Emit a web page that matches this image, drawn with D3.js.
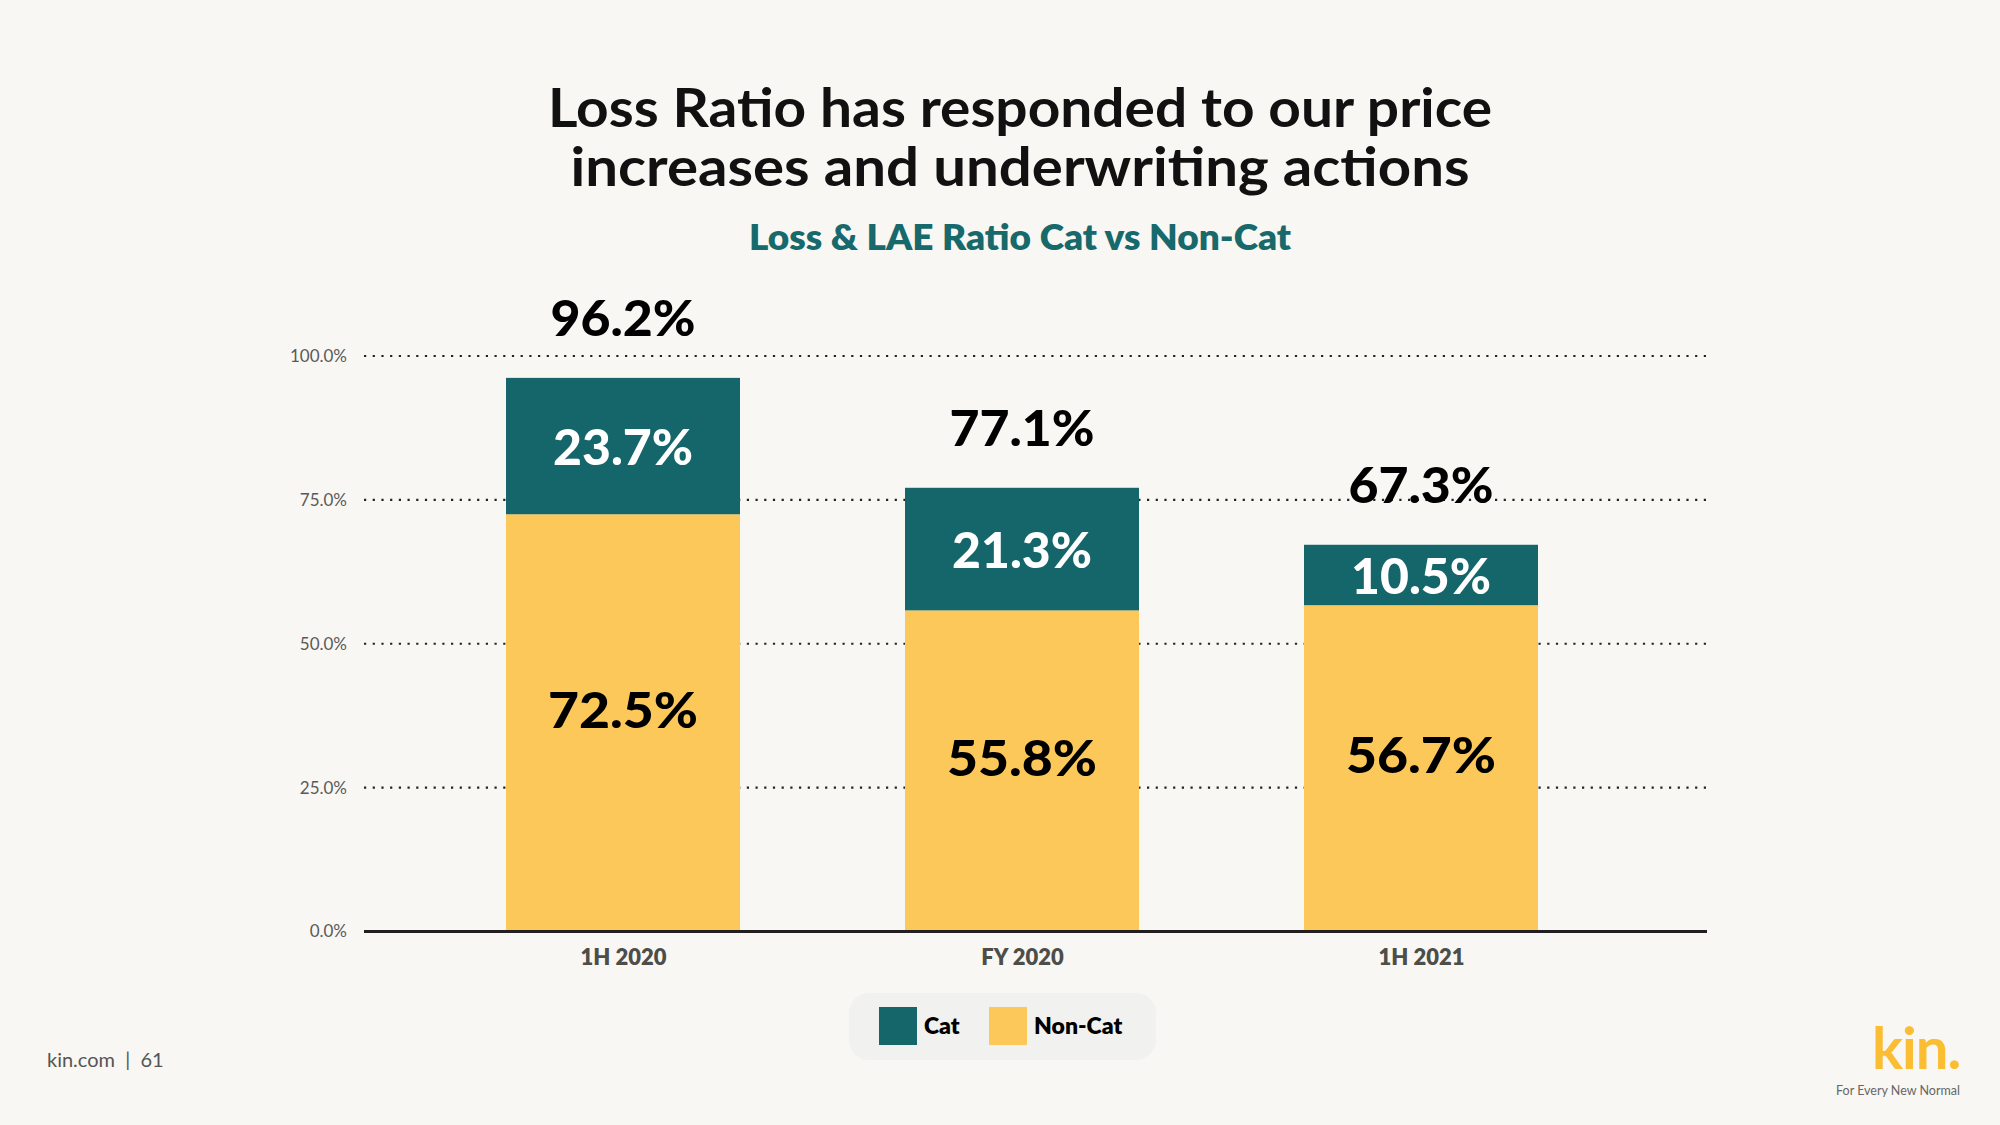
<!DOCTYPE html>
<html>
<head>
<meta charset="utf-8">
<script src="https://cdn.jsdelivr.net/npm/d3@7"></script>
<style>
  html, body { margin: 0; padding: 0; background: #f9f7f3; }
  svg { display: block; }
  text { font-family: Lato, "Noto Sans", sans-serif; }
</style>
</head>
<body>
<svg id="chart" width="2000" height="1125"></svg>
<script>
// ---- data ----
const categories = ["1H 2020", "FY 2020", "1H 2021"];
const nonCat = [72.5, 55.8, 56.7];
const cat = [23.7, 21.3, 10.5];
const totals = [96.2, 77.1, 67.3];
const yTicks = [0, 25, 50, 75, 100];
const yTickLabels = ["0.0%", "25.0%", "50.0%", "75.0%", "100.0%"];
const seriesNames = ["Cat", "Non-Cat"];
const titleLines = ["Loss Ratio has responded to our price", "increases and underwriting actions"];
const subtitle = "Loss & LAE Ratio Cat vs Non-Cat";

// ---- styles ----
const TEAL = "#14666a";
const YELLOW = "#fdc85a";
const fmt = v => v.toFixed(1) + "%";

const svg = d3.select("#chart");
svg.append("rect").attr("width", 2000).attr("height", 1125).attr("fill", "#f9f7f3");

// helper to fit text width
function fit(sel, w) {
  sel.each(function () {
    const len = this.getComputedTextLength();
    if (len > 0) d3.select(this).attr("textLength", w).attr("lengthAdjust", "spacingAndGlyphs");
  });
  return sel;
}

// title
svg.append("g").selectAll("text").data(titleLines).join("text")
  .attr("x", 1020).attr("y", (d, i) => 127 + i * 59)
  .attr("text-anchor", "middle")
  .attr("font-size", 53).attr("font-weight", 700).attr("fill", "#111")
  .text(d => d)
  .each(function (d, i) { fit(d3.select(this), i === 0 ? 944 : 899); });

svg.append("text")
  .attr("x", 1020).attr("y", 250).attr("text-anchor", "middle")
  .attr("font-size", 35).attr("font-weight", 800).attr("fill", "#17696b")
  .text(subtitle)
  .call(s => fit(s, 542));

// scales
const plotLeft = 364, plotRight = 1707;
const y = d3.scaleLinear().domain([0, 100]).range([931.5, 356]);
const x = d3.scalePoint().domain(categories).range([623, 1421]);
const barW = 234;

// gridlines
svg.append("g").selectAll("line").data(yTicks.filter(t => t > 0)).join("line")
  .attr("x1", plotLeft).attr("x2", plotRight)
  .attr("y1", d => y(d)).attr("y2", d => y(d))
  .attr("stroke", "#222").attr("stroke-width", 2.2)
  .attr("stroke-dasharray", "2.2,6.5");

// y axis labels
const yAxis = d3.axisLeft(y).tickValues(yTicks)
  .tickFormat((d, i) => yTickLabels[i]).tickSize(0).tickPadding(0);
const yg = svg.append("g").attr("transform", "translate(347,0)").call(yAxis);
yg.select(".domain").remove();
yg.selectAll("text").attr("font-size", 17).attr("fill", "#5a5a5a")
  .attr("font-family", "Lato, sans-serif");

// bars
const rows = categories.map((c, i) => ({ c, nonCat: nonCat[i], cat: cat[i], total: totals[i] }));
const g = svg.append("g");
g.selectAll("rect.non").data(rows).join("rect").attr("class", "non")
  .attr("x", d => x(d.c) - barW / 2).attr("width", barW)
  .attr("y", d => y(d.nonCat)).attr("height", d => y(0) - y(d.nonCat))
  .attr("fill", YELLOW);
g.selectAll("rect.cat").data(rows).join("rect").attr("class", "cat")
  .attr("x", d => x(d.c) - barW / 2).attr("width", barW)
  .attr("y", d => y(d.nonCat + d.cat)).attr("height", d => y(d.nonCat) - y(d.nonCat + d.cat))
  .attr("fill", TEAL);

// x axis
svg.append("line").attr("x1", plotLeft).attr("x2", plotRight)
  .attr("y1", y(0)).attr("y2", y(0)).attr("stroke", "#231f20").attr("stroke-width", 3);
const xAxis = d3.axisBottom(x).tickSize(0).tickPadding(0);
const xg = svg.append("g").attr("transform", "translate(0,965)").call(xAxis);
xg.select(".domain").remove();
xg.selectAll("text").attr("dy", 0).attr("font-size", 22).attr("font-weight", 800).attr("fill", "#4d4d4a")
  .attr("font-family", "Lato, sans-serif");

// labels
const big = 50;
g.selectAll("text.catl").data(rows).join("text").attr("class", "catl")
  .attr("x", d => x(d.c)).attr("y", d => (y(d.nonCat) + y(d.nonCat + d.cat)) / 2)
  .attr("dominant-baseline", "central").attr("text-anchor", "middle")
  .attr("font-size", big).attr("font-weight", 900).attr("fill", "#fff")
  .text(d => fmt(d.cat)).call(s => fit(s, 140));
g.selectAll("text.nonl").data(rows).join("text").attr("class", "nonl")
  .attr("x", d => x(d.c)).attr("y", d => (y(0) + y(d.nonCat)) / 2 - 14)
  .attr("dominant-baseline", "central").attr("text-anchor", "middle")
  .attr("font-size", big).attr("font-weight", 900).attr("fill", "#000")
  .text(d => fmt(d.nonCat)).call(s => fit(s, 150));
g.selectAll("text.tot").data(rows).join("text").attr("class", "tot")
  .attr("x", d => x(d.c)).attr("y", d => y(d.nonCat + d.cat) - 61)
  .attr("dominant-baseline", "central").attr("text-anchor", "middle")
  .attr("font-size", big).attr("font-weight", 900).attr("fill", "#000")
  .text(d => fmt(d.total)).call(s => fit(s, 145));

// legend
const lg = svg.append("g");
lg.append("rect").attr("x", 849).attr("y", 993).attr("width", 307).attr("height", 67)
  .attr("rx", 20).attr("fill", "#f1f1f0");
const legendColors = [TEAL, YELLOW];
const legendX = [879, 989];
seriesNames.forEach((n, i) => {
  lg.append("rect").attr("x", legendX[i]).attr("y", 1007).attr("width", 38).attr("height", 38)
    .attr("fill", legendColors[i]);
  lg.append("text").attr("x", legendX[i] + 45).attr("y", 1034)
    .attr("font-size", 23).attr("font-weight", 800).attr("fill", "#000").text(n);
});

// footer
svg.append("text").attr("x", 47).attr("y", 1067).attr("font-size", 20).attr("fill", "#555")
  .attr("xml:space", "preserve").text("kin.com  |  61");
svg.append("text").attr("x", 1872).attr("y", 1069).attr("font-size", 58).attr("font-weight", 700)
  .attr("fill", "#fbbe33").attr("letter-spacing", -1).text("kin.");
svg.append("text").attr("x", 1898).attr("y", 1095).attr("text-anchor", "middle")
  .attr("font-size", 12.5).attr("fill", "#666").text("For Every New Normal");
</script>
</body>
</html>
